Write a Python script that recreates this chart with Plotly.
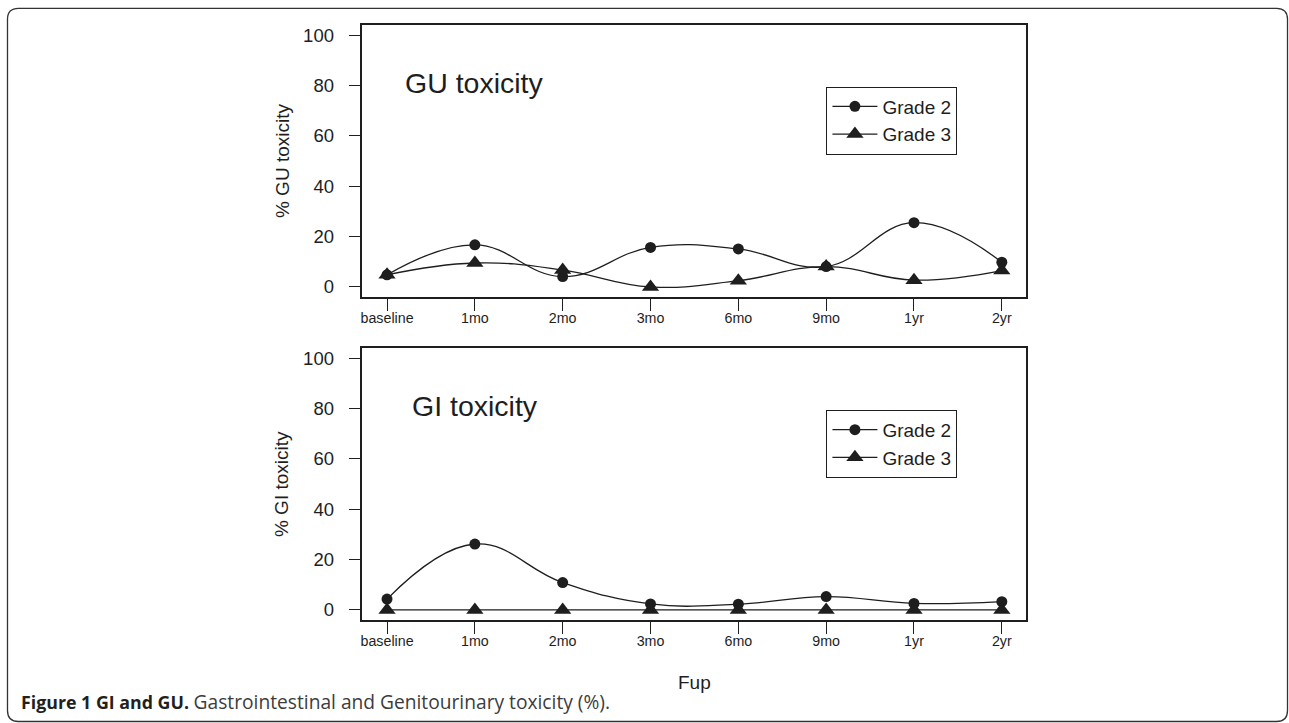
import plotly.graph_objects as go

W, H = 1289, 723

fup = ["baseline", "1mo", "2mo", "3mo", "6mo", "9mo", "1yr", "2yr"]
gu_grade2 = [4.8, 16.7, 4.1, 15.7, 15.1, 8.1, 25.5, 9.8]
gu_grade3 = [4.8, 9.5, 6.7, 0.0, 2.5, 8.1, 2.7, 6.5]
gi_grade2 = [4.3, 26.2, 10.9, 2.4, 2.3, 5.3, 2.6, 3.3]
gi_grade3 = [0, 0, 0, 0, 0, 0, 0, 0]
y_ticks = [0, 20, 40, 60, 80, 100]

INK = "#1e1e1e"
FONT = "Liberation Sans, Arial, Helvetica, sans-serif"


def px(x):
    return x / W


def py(y):
    return 1 - y / H


fig = go.Figure()


def add_pair(g2, g3, xa, ya, leg, show):
    fig.add_trace(go.Scatter(
        x=fup, y=g2, xaxis=xa, yaxis=ya, legend=leg, name="Grade 2",
        mode="lines+markers", line=dict(color=INK, width=1.3, shape="spline", smoothing=1.2),
        marker=dict(symbol="circle", size=11, color=INK), showlegend=show))
    fig.add_trace(go.Scatter(
        x=fup, y=g3, xaxis=xa, yaxis=ya, legend=leg, name="Grade 3",
        mode="lines+markers", line=dict(color=INK, width=1.3, shape="spline", smoothing=1.2),
        marker=dict(symbol="triangle-up", size=15, color=INK), showlegend=show))


add_pair(gu_grade2, gu_grade3, "x", "y", "legend", True)
add_pair(gi_grade2, gi_grade3, "x2", "y2", "legend2", True)

xcommon = dict(type="category", range=[-0.28, 7.28], showline=True, mirror=True,
               linecolor=INK, linewidth=1.5, ticks="outside", ticklen=12, tickwidth=1.3,
               tickcolor=INK, showgrid=False, zeroline=False, ticklabelstandoff=-5,
               tickfont=dict(family=FONT, size=14.25, color=INK))
ycommon = dict(range=[-4, 104], tickvals=y_ticks, showline=True, mirror=True,
               linecolor=INK, linewidth=1.5, ticks="outside", ticklen=12, tickwidth=1.3,
               tickcolor=INK, showgrid=False, zeroline=False, ticklabelstandoff=11,
               tickfont=dict(family=FONT, size=18.5, color=INK))

top_dom = [py(297), py(25)]
bot_dom = [py(620), py(348.3)]
xdom = [px(361), px(1026)]

legcommon = dict(bordercolor=INK, borderwidth=1, bgcolor="white",
                 font=dict(family=FONT, size=19, color=INK),
                 xanchor="left", yanchor="top", tracegroupgap=0, itemwidth=45)

# rounded outer frame
L, T, R, B, rad = 5.5, 8.3, 1287.5, 721.5, 11
frame = (f"M {px(L)},{py(T+rad)} Q {px(L)},{py(T)} {px(L+rad)},{py(T)} "
         f"L {px(R-rad)},{py(T)} Q {px(R)},{py(T)} {px(R)},{py(T+rad)} "
         f"L {px(R)},{py(B-rad)} Q {px(R)},{py(B)} {px(R-rad)},{py(B)} "
         f"L {px(L+rad)},{py(B)} Q {px(L)},{py(B)} {px(L)},{py(B-rad)} Z")

caption = ("<b>Figure 1 GI and GU.</b> "
           "<span style='color:#3c3c3c;font-size:19.2px'>"
           "Gastrointestinal and Genitourinary toxicity (%).</span>")

fig.update_layout(
    width=W, height=H, margin=dict(l=0, r=0, t=0, b=0),
    paper_bgcolor="white", plot_bgcolor="white",
    xaxis=dict(domain=xdom, anchor="y", **xcommon),
    yaxis=dict(domain=top_dom, anchor="x", **ycommon),
    xaxis2=dict(domain=xdom, anchor="y2", **xcommon),
    yaxis2=dict(domain=bot_dom, anchor="x2", **ycommon),
    legend=dict(x=px(825.7), y=py(86.5), **legcommon),
    legend2=dict(x=px(825.7), y=py(409.8), **legcommon),
    shapes=[dict(type="path", xref="paper", yref="paper", path=frame,
                 line=dict(color="#333333", width=1.3), layer="below")],
    annotations=[
        dict(text="GU toxicity", x="1mo", y=81, xref="x", yref="y", showarrow=False,
             xanchor="center", yanchor="middle",
             font=dict(family=FONT, size=28.5, color=INK)),
        dict(text="GI toxicity", x="1mo", y=81, xref="x2", yref="y2", showarrow=False,
             xanchor="center", yanchor="middle",
             font=dict(family=FONT, size=28.5, color=INK)),
        dict(text="% GU toxicity", x=px(280.5), y=py(161), xref="paper", yref="paper",
             xanchor="center", yanchor="middle",
             textangle=-90, showarrow=False, font=dict(family=FONT, size=19, color=INK)),
        dict(text="% GI toxicity", x=px(280.5), y=py(484), xref="paper", yref="paper",
             xanchor="center", yanchor="middle",
             textangle=-90, showarrow=False, font=dict(family=FONT, size=19, color=INK)),
        dict(text="Fup", x=px(693.5), y=py(682), xref="paper", yref="paper",
             xanchor="center", yanchor="middle",
             showarrow=False, font=dict(family=FONT, size=19, color=INK)),
        dict(text=caption, x=px(17.5), y=py(701), xref="paper", yref="paper",
             xanchor="left", yanchor="middle",
             showarrow=False, font=dict(family="Open Sans, Noto Sans, sans-serif", size=17.8, color="#231f20")),
    ],
)

fig.write_html("out.html")
